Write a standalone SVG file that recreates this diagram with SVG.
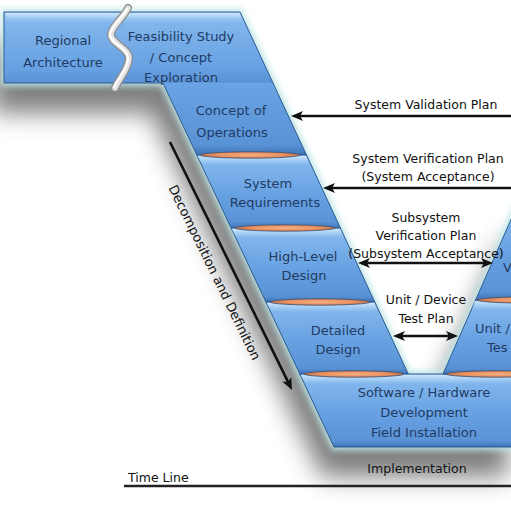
<svg xmlns="http://www.w3.org/2000/svg" width="511" height="511" viewBox="0 0 511 511">
<defs>
<style>
.bt{font-family:"DejaVu Sans","Liberation Sans",sans-serif;font-size:13px;fill:#1f3b63;text-anchor:middle}
.at{font-family:"DejaVu Sans","Liberation Sans",sans-serif;font-size:12.5px;fill:#111;text-anchor:middle}
.seg{fill:url(#segG);stroke:#2d5a92;stroke-width:1}
.hl{fill:url(#hlG)}
.disc{fill:url(#discG);stroke:#3e5678;stroke-width:0.8}
.arr{stroke:#111;stroke-width:2.6;fill:none}
</style>
<linearGradient id="segG" x1="0" y1="0" x2="0" y2="1">
<stop offset="0" stop-color="#a9d0f5"/>
<stop offset="0.14" stop-color="#80b5ec"/>
<stop offset="0.55" stop-color="#67a1e2"/>
<stop offset="0.92" stop-color="#5a92d6"/>
<stop offset="1" stop-color="#3e73b6"/>
</linearGradient>
<linearGradient id="bandG" gradientUnits="userSpaceOnUse" x1="0" y1="12" x2="0" y2="155">
<stop offset="0" stop-color="#a9d0f5"/>
<stop offset="0.08" stop-color="#80b5ec"/>
<stop offset="0.4" stop-color="#67a1e2"/>
<stop offset="0.49" stop-color="#5a92d6"/>
<stop offset="0.5" stop-color="#6aa4e4"/>
<stop offset="0.93" stop-color="#5a92d6"/>
<stop offset="1" stop-color="#3e73b6"/>
</linearGradient>
<linearGradient id="hlG" x1="0" y1="0" x2="0" y2="1">
<stop offset="0" stop-color="#d6ebff" stop-opacity="0.85"/>
<stop offset="1" stop-color="#9cc8f2" stop-opacity="0"/>
</linearGradient>
<radialGradient id="discG" cx="0.5" cy="0.5" r="0.5">
<stop offset="0" stop-color="#f6b184"/>
<stop offset="0.7" stop-color="#e8905f"/>
<stop offset="1" stop-color="#c2714a"/>
</radialGradient>
<filter id="shadow" x="-30%" y="-30%" width="160%" height="160%">
<feGaussianBlur stdDeviation="12"/>
</filter>
<filter id="glow" x="-10%" y="-10%" width="120%" height="120%">
<feGaussianBlur stdDeviation="3"/>
</filter>
<marker id="ah" viewBox="0 0 12 10" markerWidth="12" markerHeight="10" refX="6" refY="5" markerUnits="userSpaceOnUse" orient="auto-start-reverse">
<path d="M0,0 L12,5 L0,10 L3,5 z" fill="#111"/>
</marker>
</defs>
<rect width="511" height="511" fill="#ffffff"/>
<g id="backdrop">
<polygon points="4,12 240,12 408,374 443,374 520,199 520,447 334,447 163,83 4,83" fill="#4a4a4a" opacity="0.7" transform="translate(-12,30)" filter="url(#shadow)"/>
<polygon points="4,12 240,12 408,374 443,374 520,199 520,447 334,447 163,83 4,83" fill="#bfe6e6" stroke="#bfe6e6" stroke-width="6" filter="url(#glow)"/>
</g>
<g id="top-band">
<polygon points="4,12 240,12 306.5,155 196.8,155 163,83 4,83" fill="url(#bandG)" stroke="#2d5a92" stroke-width="1"/>
<polygon class="hl" points="5,13 239.5,13 243.5,22 9,22"/>
</g>
<g id="regional-architecture">
<text class="bt" x="63" y="45">Regional</text>
<text class="bt" x="63" y="67">Architecture</text>
</g>
<g id="feasibility-study">
<text class="bt" x="181" y="41">Feasibility Study</text>
<text class="bt" x="181" y="62">/ Concept</text>
<text class="bt" x="181" y="82">Exploration</text>
</g>
<g id="concept-of-operations">
<text class="bt" x="231" y="115">Concept of</text>
<text class="bt" x="232" y="137">Operations</text>
</g>
<g id="system-requirements">
<polygon class="seg" points="196.8,155 306.5,155 340.4,228 231.1,228"/>
<polygon class="hl" points="198,156 306,156 310,165 202,165"/>
<text class="bt" x="268" y="188">System</text>
<text class="bt" x="275" y="207">Requirements</text>
</g>
<g id="high-level-design">
<polygon class="seg" points="231.1,228 340.4,228 374.8,302 265.9,302"/>
<polygon class="hl" points="232,229 340,229 344,238 236,238"/>
<text class="bt" x="303" y="261">High-Level</text>
<text class="bt" x="304" y="280">Design</text>
</g>
<g id="detailed-design">
<polygon class="seg" points="265.9,302 374.8,302 408.3,374 299.8,374"/>
<polygon class="hl" points="267,303 374,303 378,312 271,312"/>
<text class="bt" x="338" y="335">Detailed</text>
<text class="bt" x="338" y="354">Design</text>
</g>
<g id="implementation">
<polygon class="seg" points="299.8,374 520,374 520,447 334,447"/>
<polygon class="hl" points="301,375 520,375 520,384 305,384"/>
<text class="bt" x="424" y="397">Software / Hardware</text>
<text class="bt" x="424" y="417">Development</text>
<text class="bt" x="424" y="437">Field Installation</text>
</g>
<g id="unit-device-testing">
<polygon class="seg" points="443,374 475.6,300 520,300 520,374"/>
<polygon class="hl" points="475,301 520,301 520,310 471,310"/>
<text class="bt" x="475" y="333" style="text-anchor:start">Unit /</text>
<text class="bt" x="487" y="352" style="text-anchor:start">Tes</text>
</g>
<g id="subsystem-verification">
<polygon class="seg" points="475.6,300 510.8,220 520,200 520,300"/>
<text class="bt" x="503" y="272" style="text-anchor:start">V</text>
</g>
<g id="separators">
<ellipse class="disc" cx="250" cy="155" rx="50" ry="3.2"/>
<ellipse class="disc" cx="285" cy="228" rx="50" ry="3.2"/>
<ellipse class="disc" cx="320" cy="302" rx="50" ry="3.2"/>
<ellipse class="disc" cx="354" cy="374" rx="50" ry="3.2"/>
<ellipse class="disc" cx="530" cy="300" rx="53" ry="3.2"/>
<ellipse class="disc" cx="498" cy="374" rx="52" ry="3.2"/>
</g>
<g id="break">
<path d="M128,8 C124,17 112,26 111,34 C110,43 129,48 129,58 C129,69 118,80 115,88" fill="none" stroke="#8c8c8c" stroke-width="8" stroke-linecap="round"/>
<path d="M128,8 C124,17 112,26 111,34 C110,43 129,48 129,58 C129,69 118,80 115,88" fill="none" stroke="#e4e4e4" stroke-width="5.5" stroke-linecap="round"/>
<path d="M127,9 C123,17 111,26 110,34 C109,43 128,48 128,58 C128,69 117,80 114,87" fill="none" stroke="#ffffff" stroke-width="2" stroke-linecap="round"/>
</g>
<g id="connectors">
<line class="arr" x1="512" y1="116" x2="297" y2="116" marker-end="url(#ah)"/>
<line class="arr" x1="512" y1="188" x2="329" y2="188" marker-end="url(#ah)"/>
<line class="arr" x1="364" y1="263" x2="487" y2="263" marker-start="url(#ah)" marker-end="url(#ah)"/>
<line class="arr" x1="399" y1="336" x2="452" y2="336" marker-start="url(#ah)" marker-end="url(#ah)"/>
<line class="arr" x1="170" y1="142" x2="289.4" y2="384.6" marker-end="url(#ah)"/>
<line x1="124" y1="486" x2="511" y2="486" stroke="#222" stroke-width="2.5"/>
</g>
<g id="labels">
<text class="at" x="426" y="109">System Validation Plan</text>
<text class="at" x="428" y="163">System Verification Plan</text>
<text class="at" x="428" y="181">(System Acceptance)</text>
<text class="at" x="426" y="222">Subsystem</text>
<text class="at" x="426" y="240">Verification Plan</text>
<text class="at" x="426" y="258">(Subsystem Acceptance)</text>
<text class="at" x="426" y="304">Unit / Device</text>
<text class="at" x="426" y="323">Test Plan</text>
<text class="at" x="417" y="473">Implementation</text>
<text class="at" x="128" y="482" style="text-anchor:start">Time Line</text>
<text class="at" transform="translate(210.5,274.5) rotate(64)" x="0" y="0" style="font-size:13px">Decomposition and Definition</text>
</g>
</svg>
